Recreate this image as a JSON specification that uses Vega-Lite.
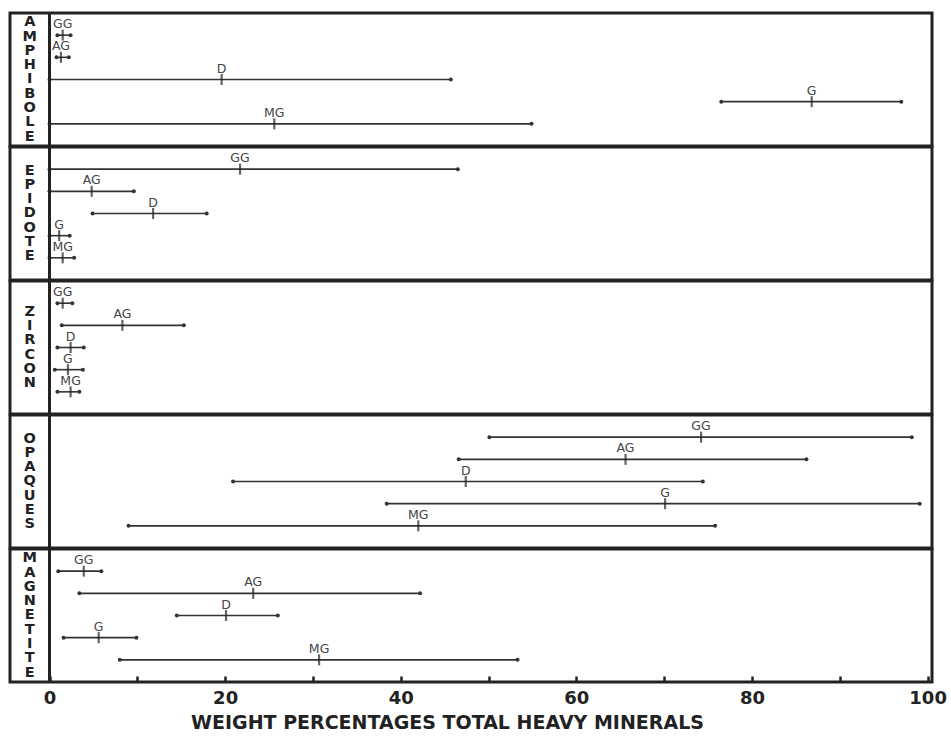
{
  "$schema": "https://vega.github.io/schema/vega-lite/v6.json",
  "padding": {"left": 8, "top": 10, "right": 19, "bottom": 4},
  "background": "white",
  "bounds": "flush",
  "config": {"view": {"stroke": "#222", "strokeWidth": 3}},
  "data": {"values": [
    {"mineral": "AMPHIBOLE", "sample": "GG", "min": 0.9, "mean": 1.5, "max": 2.4},
    {"mineral": "AMPHIBOLE", "sample": "AG", "min": 0.8, "mean": 1.3, "max": 2.2},
    {"mineral": "AMPHIBOLE", "sample": "D", "min": 0, "mean": 19.6, "max": 45.7},
    {"mineral": "AMPHIBOLE", "sample": "G", "min": 76.5, "mean": 86.8, "max": 97.0},
    {"mineral": "AMPHIBOLE", "sample": "MG", "min": 0, "mean": 25.6, "max": 54.9},
    {"mineral": "EPIDOTE", "sample": "GG", "min": 0, "mean": 21.7, "max": 46.5},
    {"mineral": "EPIDOTE", "sample": "AG", "min": 0, "mean": 4.8, "max": 9.6},
    {"mineral": "EPIDOTE", "sample": "D", "min": 4.9, "mean": 11.8, "max": 17.9},
    {"mineral": "EPIDOTE", "sample": "G", "min": 0, "mean": 1.1, "max": 2.3},
    {"mineral": "EPIDOTE", "sample": "MG", "min": 0, "mean": 1.5, "max": 2.8},
    {"mineral": "ZIRCON", "sample": "GG", "min": 0.9, "mean": 1.5, "max": 2.6},
    {"mineral": "ZIRCON", "sample": "AG", "min": 1.4, "mean": 8.3, "max": 15.3},
    {"mineral": "ZIRCON", "sample": "D", "min": 0.9, "mean": 2.4, "max": 3.9},
    {"mineral": "ZIRCON", "sample": "G", "min": 0.6, "mean": 2.1, "max": 3.8},
    {"mineral": "ZIRCON", "sample": "MG", "min": 0.9, "mean": 2.4, "max": 3.4},
    {"mineral": "OPAQUES", "sample": "GG", "min": 50.1, "mean": 74.2, "max": 98.2},
    {"mineral": "OPAQUES", "sample": "AG", "min": 46.6, "mean": 65.6, "max": 86.2},
    {"mineral": "OPAQUES", "sample": "D", "min": 20.9, "mean": 47.4, "max": 74.4},
    {"mineral": "OPAQUES", "sample": "G", "min": 38.4, "mean": 70.1, "max": 99.1},
    {"mineral": "OPAQUES", "sample": "MG", "min": 9.0, "mean": 42.0, "max": 75.8},
    {"mineral": "MAGNETITE", "sample": "GG", "min": 1.0, "mean": 3.9, "max": 5.9},
    {"mineral": "MAGNETITE", "sample": "AG", "min": 3.4, "mean": 23.2, "max": 42.2},
    {"mineral": "MAGNETITE", "sample": "D", "min": 14.5, "mean": 20.1, "max": 26.0},
    {"mineral": "MAGNETITE", "sample": "G", "min": 1.6, "mean": 5.6, "max": 9.9},
    {"mineral": "MAGNETITE", "sample": "MG", "min": 8.0, "mean": 30.7, "max": 53.3}
  ]},
  "facet": {"row": {"field": "mineral", "type": "nominal", "sort": ["AMPHIBOLE", "EPIDOTE", "ZIRCON", "OPAQUES", "MAGNETITE"], "header": null}},
  "spacing": 1,
  "spec": {
    "width": 922,
    "height": 133,
    "layer": [
      {
        "mark": {"type": "rule", "color": "#333", "strokeWidth": 1.6},
        "encoding": {
          "x": {"field": "min", "type": "quantitative",
            "scale": {"domain": [-4.5, 100.5], "nice": false, "zero": false},
            "axis": {
              "values": [0, 10, 20, 30, 40, 50, 60, 70, 80, 90, 100],
              "labelExpr": "datum.value % 20 == 0 ? datum.label : ''",
              "domain": false, "grid": false,
              "tickSize": -6, "tickWidth": 2.5, "tickColor": "#222",
              "labelFont": "DejaVu Sans", "labelFontSize": 18, "labelFontWeight": "bold", "labelColor": "#222", "labelPadding": 13,
              "title": "WEIGHT PERCENTAGES TOTAL HEAVY MINERALS",
              "titleFont": "DejaVu Sans", "titleFontSize": 19, "titleFontWeight": "bold", "titleColor": "#222", "titlePadding": 6,
              "titleX": 437
            }},
          "x2": {"field": "max"},
          "y": {"field": "sample", "type": "ordinal", "scale": {"type": "point", "domain": ["GG", "AG", "D", "G", "MG"], "padding": 1}, "axis": null}
        }
      },
      {
        "mark": {"type": "point", "filled": true, "size": 16, "color": "#333", "opacity": 1},
        "encoding": {
          "x": {"field": "min", "type": "quantitative"},
          "y": {"field": "sample", "type": "ordinal"}
        }
      },
      {
        "mark": {"type": "point", "filled": true, "size": 16, "color": "#333", "opacity": 1},
        "encoding": {
          "x": {"field": "max", "type": "quantitative"},
          "y": {"field": "sample", "type": "ordinal"}
        }
      },
      {
        "mark": {"type": "tick", "orient": "vertical", "size": 11, "thickness": 2.2, "color": "#222"},
        "encoding": {
          "x": {"field": "mean", "type": "quantitative"},
          "y": {"field": "sample", "type": "ordinal"}
        }
      },
      {
        "mark": {"type": "text", "baseline": "bottom", "dy": -4, "fontSize": 12.5, "font": "DejaVu Sans", "color": "#444"},
        "encoding": {
          "x": {"field": "mean", "type": "quantitative"},
          "y": {"field": "sample", "type": "ordinal"},
          "text": {"field": "sample"}
        }
      },
      {
        "transform": [
          {"filter": "datum.sample == 'D'"},
          {"calculate": "split(datum.mineral, '')", "as": "letters"},
          {"calculate": "length(datum.mineral)", "as": "nletters"}
        ],
        "mark": {"type": "text", "fontWeight": "bold", "fontSize": 14.5, "lineHeight": 14.3, "baseline": "middle", "font": "DejaVu Sans", "color": "#222"},
        "encoding": {
          "x": {"datum": -2.25, "type": "quantitative"},
          "y": {"field": "sample", "type": "ordinal"},
          "yOffset": {"field": "nletters", "type": "quantitative", "scale": {"domain": [1, 9], "range": [0, -57.2]}},
          "text": {"field": "letters"}
        }
      },
      {
        "transform": [{"filter": "datum.sample == 'D'"}],
        "mark": {"type": "rule", "strokeWidth": 3, "color": "#222"},
        "encoding": {
          "x": {"datum": 0, "type": "quantitative"}
        }
      }
    ]
  }
}
